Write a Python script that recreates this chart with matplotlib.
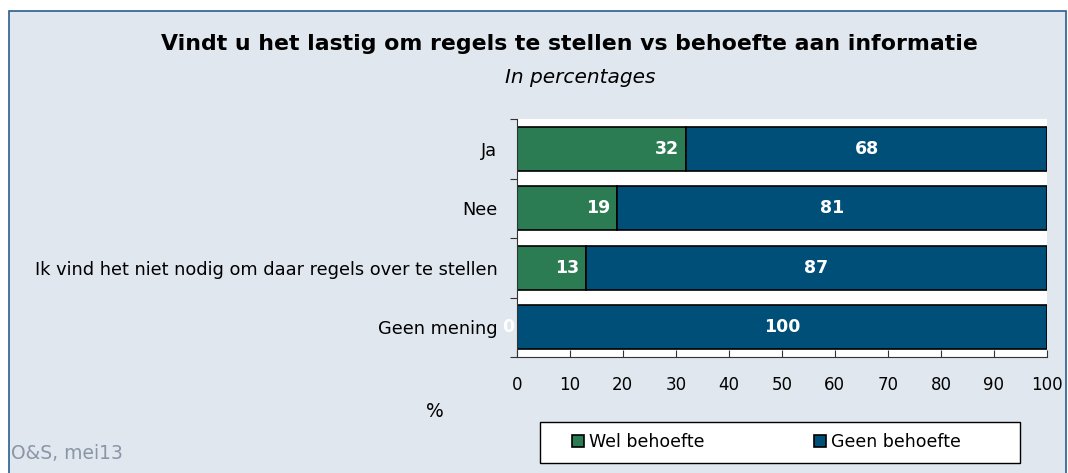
import matplotlib
matplotlib.use('Agg')
import matplotlib.pyplot as plt
from matplotlib.patches import Rectangle

plt.rcParams['font.family'] = ['DejaVu Sans']

# Data
categories = ['Ja', 'Nee', 'Ik vind het niet nodig om daar regels over te stellen', 'Geen mening']
wel_behoefte = [32, 19, 13, 0]
geen_behoefte = [68, 81, 87, 100]
series_names = ['Wel behoefte', 'Geen behoefte']
xticks = [0, 10, 20, 30, 40, 50, 60, 70, 80, 90, 100]

green = '#2b7b53'
blue = '#004f79'
panel = '#e0e7ef'

fig = plt.figure(figsize=(10.68, 4.73), dpi=100)
fig.patch.set_facecolor('white')

# achtergrondpaneel met rand
fig.patches.append(Rectangle((9 / 1068, -0.01), 1057 / 1068, 1 - 11 / 473 + 0.01,
                             transform=fig.transFigure, facecolor=panel,
                             edgecolor='#2a5f8f', linewidth=1.2, zorder=-10))

ax = fig.add_axes([0.4838, 0.2452, 0.4965, 0.5032])
ax.set_zorder(2)
ax.set_facecolor('white')

y = list(range(len(categories)))
b1 = ax.barh(y, wel_behoefte, height=0.74, color=green, edgecolor='black', linewidth=1.2,
             label=series_names[0])
b2 = ax.barh(y, geen_behoefte, left=wel_behoefte, height=0.74, color=blue, edgecolor='black',
             linewidth=1.2, label=series_names[1])

# waarden in de balken (een 0 komt net links van de as te staan)
for i in y:
    x_wel = wel_behoefte[i] - 1.3 if wel_behoefte[i] > 0 else -0.4
    ax.text(x_wel, i, str(wel_behoefte[i]), ha='right', va='center',
            color='white', fontsize=12.5, fontweight='bold', clip_on=False)
    ax.text(wel_behoefte[i] + geen_behoefte[i] / 2, i, str(geen_behoefte[i]), ha='center',
            va='center', color='white', fontsize=12.5, fontweight='bold')

ax.set_xlim(0, 100)
ax.set_ylim(3.5, -0.5)
ax.set_xticks(xticks)
ax.tick_params(axis='x', direction='in', length=5, pad=14, labelsize=12, color='#333333')

# categorie-labels tussen de tickstreepjes
ax.set_yticks([-0.5, 0.5, 1.5, 2.5, 3.5])
ax.set_yticklabels([])
ax.tick_params(axis='y', which='major', direction='out', length=5, color='#333333')
ax.set_yticks(y, minor=True)
ax.set_yticklabels(categories, minor=True, fontsize=12.8)
ax.tick_params(axis='y', which='minor', length=0, pad=14)

for s in ['top', 'right']:
    ax.spines[s].set_visible(False)
for s in ['left', 'bottom']:
    ax.spines[s].set_color('#333333')

fig.text(0.533, 0.907, 'Vindt u het lastig om regels te stellen vs behoefte aan informatie',
         ha='center', va='center', fontsize=15.8, fontweight='bold')
fig.text(0.543, 0.837, 'In percentages', ha='center', va='center', fontsize=14.5, style='oblique')
fig.text(0.407, 0.129, '%', ha='center', va='center', fontsize=13.5)
fig.text(0.010, 0.042, 'O&S, mei13', ha='left', va='center', fontsize=13.5, color='#8a96a6')

# legenda met eigen kader
fig.patches.append(Rectangle((540 / 1068, 1 - 463 / 473), 480 / 1068, 41 / 473,
                             transform=fig.transFigure, facecolor='white',
                             edgecolor='black', linewidth=1.0, zorder=1))
leg = fig.legend(handles=[b1, b2], loc='center left', ncol=2,
                 bbox_to_anchor=(556 / 1068, 1 - 442 / 473),
                 frameon=False, fontsize=12.5, columnspacing=6.3,
                 handlelength=0.7, handleheight=0.7, handletextpad=0.3)
leg.set_zorder(3)

fig.savefig('out.png', dpi=100, facecolor=fig.get_facecolor())
